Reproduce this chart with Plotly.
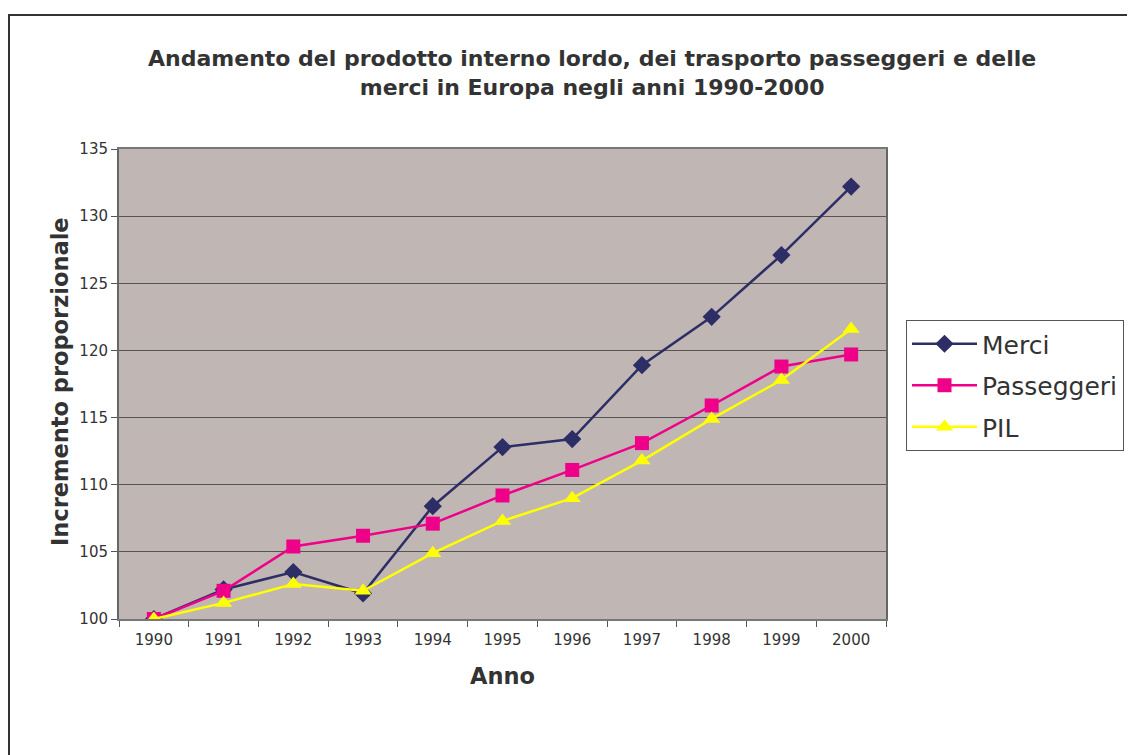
import plotly.graph_objects as go

years = ["1990", "1991", "1992", "1993", "1994", "1995", "1996", "1997", "1998", "1999", "2000"]
merci = [100.0, 102.2, 103.5, 101.9, 108.4, 112.8, 113.4, 118.9, 122.5, 127.1, 132.2]
passeggeri = [100.0, 102.1, 105.4, 106.2, 107.1, 109.2, 111.1, 113.1, 115.9, 118.8, 119.7]
pil = [100.0, 101.2, 102.6, 102.1, 104.9, 107.3, 109.0, 111.8, 114.9, 117.8, 121.6]
y_ticks = [100, 105, 110, 115, 120, 125, 130, 135]

OFF = 8  # page body margin
W, H = 1135 - OFF, 755 - OFF
# plot area in screen pixels: x 119..886, y 149..619
L, T = 119 - OFF, 149 - OFF
R = W - (886 - OFF)
B = H - (619 - OFF)
pw, ph = W - L - R, H - T - B

def px(sx):
    return (sx - OFF - L) / pw

def py(sy):
    return ((619 - OFF) - (sy - OFF)) / ph

FONT = "DejaVu Sans"
TXT = "#333333"

fig = go.Figure()
fig.add_trace(go.Scatter(x=years, y=merci, name="Merci", mode="lines+markers", legendgroup="a",
                         line=dict(color="#2E2E66", width=2.5),
                         marker=dict(symbol="diamond", size=14, color="#2E2E66")))
fig.add_trace(go.Scatter(x=years, y=passeggeri, name="Passeggeri", mode="lines+markers", legendgroup="b",
                         line=dict(color="#EE0088", width=2.5),
                         marker=dict(symbol="square", size=14, color="#EE0088")))
fig.add_trace(go.Scatter(x=years, y=pil, name="PIL", mode="lines+markers", legendgroup="c",
                         line=dict(color="#FFFF00", width=2.5),
                         marker=dict(symbol="triangle-up", size=15, color="#FFFF00")))

fig.update_layout(
    width=W, height=H,
    margin=dict(l=L, r=R, t=T, b=B, autoexpand=False),
    paper_bgcolor="white",
    plot_bgcolor="#C0B6B4",
    font=dict(family=FONT, color=TXT),
    showlegend=True,
    legend=dict(x=px(906), y=py(320), xanchor="left", yanchor="top",
                bgcolor="white", bordercolor="#555555", borderwidth=1,
                font=dict(size=25, family=FONT, color=TXT),
                itemwidth=65, tracegroupgap=6),
    annotations=[
        dict(text="<b>Andamento del prodotto interno lordo, dei trasporto passeggeri e delle<br>merci in Europa negli anni 1990-2000</b>",
             x=px(592), y=py(73), xref="paper", yref="paper", xanchor="center", yanchor="middle",
             showarrow=False, font=dict(size=22, family=FONT, color=TXT), align="center"),
        dict(text="<b>Incremento proporzionale</b>", textangle=-90,
             x=px(60), y=py(382), xref="paper", yref="paper", xanchor="center", yanchor="middle",
             showarrow=False, font=dict(size=22.5, family=FONT, color=TXT)),
        dict(text="<b>Anno</b>",
             x=px(502), y=py(676), xref="paper", yref="paper", xanchor="center", yanchor="middle",
             showarrow=False, font=dict(size=22.5, family=FONT, color=TXT)),
    ],
    shapes=[
        dict(type="rect", xref="paper", yref="paper",
             x0=px(9), x1=px(1145), y0=py(790), y1=py(15),
             line=dict(color="#333333", width=2), fillcolor="rgba(0,0,0,0)", layer="below"),
    ],
)

fig.update_xaxes(
    type="category", range=[-0.5, len(years) - 0.5],
    tickson="boundaries", ticks="outside", ticklen=6,
    tickcolor="#555555", showgrid=False, ticklabelstandoff=6,
    showline=True, linecolor="#777777", linewidth=2, mirror=True,
    tickfont=dict(size=15, family=FONT, color=TXT),
)
fig.update_yaxes(
    range=[100, 135], tickvals=y_ticks, ticks="outside", ticklen=6,
    tickcolor="#555555", showgrid=True, gridcolor="#555555", gridwidth=1,
    showline=True, linecolor="#666666", linewidth=2, mirror=True, zeroline=False,
    tickfont=dict(size=15, family=FONT, color=TXT),
)

fig.write_html("out.html")
